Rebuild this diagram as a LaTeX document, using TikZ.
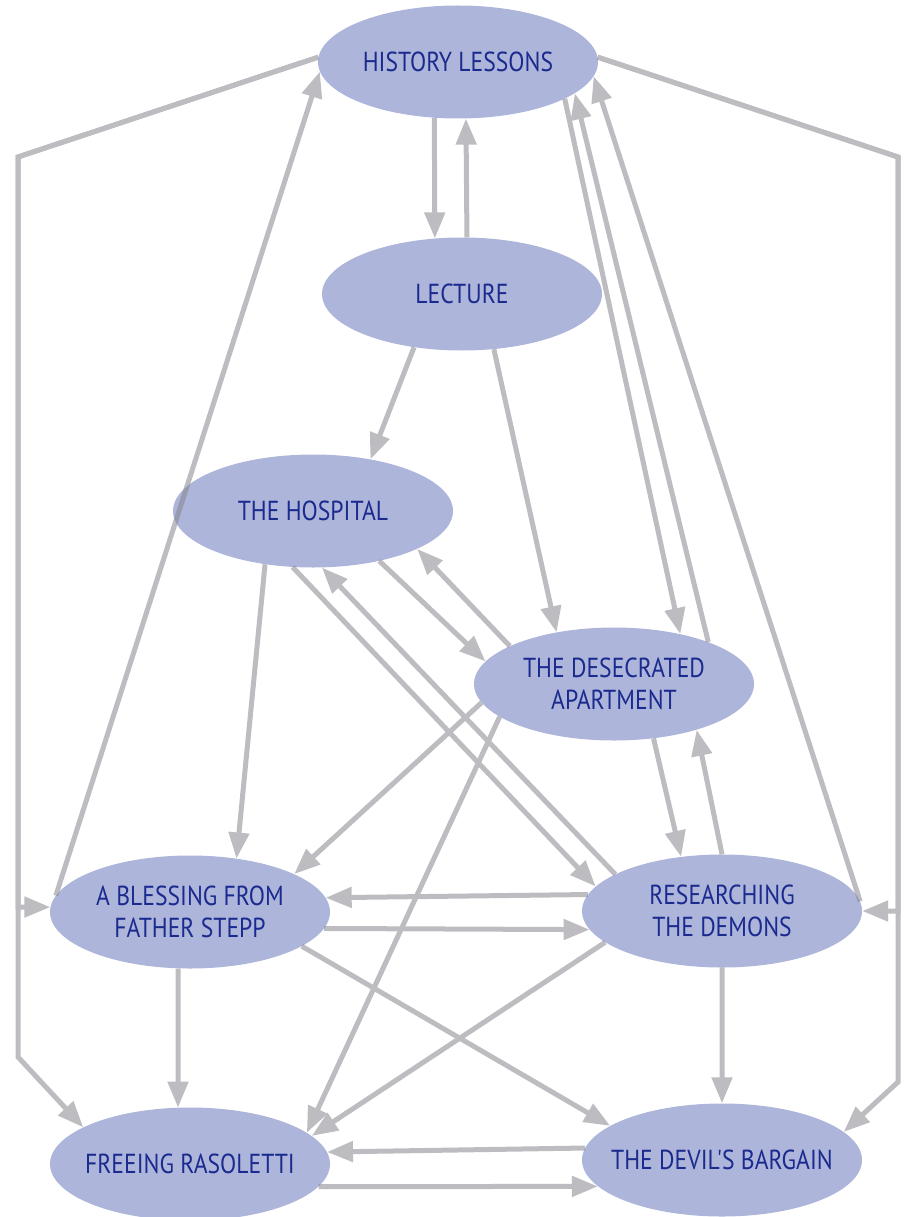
\documentclass[tikz,border=0pt]{standalone}
\usepackage{fontspec}
\newfontfamily\lbl[FakeStretch=0.86]{PT Sans}
\usetikzlibrary{arrows.meta,shapes.geometric}
\definecolor{nodefill}{HTML}{ADB5DA}
\definecolor{nodetext}{HTML}{1A2A8E}
\definecolor{edgecol}{HTML}{86868E}
\begin{document}
\begin{tikzpicture}[x=1pt,y=-1pt,
  state/.style={ellipse, fill=nodefill, minimum width=280pt, minimum height=113pt,
    inner xsep=-40pt, inner ysep=0pt, text=nodetext, font=\lbl\fontsize{27.5}{32}\selectfont, align=center},
  edge/.style={draw=edgecol, line width=5pt,
    -{Triangle[length=26pt,width=20pt]}}]
\useasboundingbox (0,0) rectangle (903,1217);
\node[state] (hist) at (458,62) {HISTORY LESSONS};
\node[state] (lect) at (462,294) {LECTURE};
\node[state] (hosp) at (313,511) {THE HOSPITAL};
\node[state] (dese) at (614,684) {THE DESECRATED\\APARTMENT};
\node[state] (bles) at (190,912) {A BLESSING FROM\\FATHER STEPP};
\node[state] (rese) at (722,911) {RESEARCHING\\THE DEMONS};
\node[state] (free) at (190,1164) {FREEING RASOLETTI};
\node[state] (devi) at (722,1160) {THE DEVIL'S BARGAIN};
\coordinate (lt) at (18,157);
\coordinate (lb1) at (18,907);
\coordinate (lb2) at (18,1057);
\coordinate (rt) at (898,157);
\coordinate (rb1) at (898,911);
\coordinate (rb2) at (898,1082);
\begin{scope}[transparency group, opacity=0.55]
% history lessons
\draw[edge] (hist.247.5) -- (lect.116.6);
\draw[edge] (lect.85.9) -- (hist.-82.1);
\draw[edge] (hist.-19.9) -- (dese.37.2);
\draw[edge] (dese.24.3) -- (hist.-15.8);
\draw[edge] (rese.4.4) -- (hist.-6.6);
\draw[edge] (hist.178) -- (lt) -- (lb1) -- (bles.178);
\draw[edge] (hist.178) -- (lt) -- (lb2) -- (free.161);
\draw[edge] (hist.2) -- (rt) -- (rb1) -- (rese.0);
\draw[edge] (hist.2) -- (rt) -- (rb2) -- (devi.13.4);
\draw[edge] (bles.173.8) -- (hist.184);
% lecture
\draw[edge] (lect.-132.3) -- (hosp.42.6);
\draw[edge] (lect.-60.3) -- (dese.138.6);
% hospital
\draw[edge] (hosp.-132.3) -- (bles.49.9);
\draw[edge] (hosp.-110.6) -- (rese.169.3);
\draw[edge] (rese.161.9) -- (hosp.-81);
\draw[edge] (hosp.-37.3) -- (dese.170.9);
\draw[edge] (dese.160) -- (hosp.-20.4);
% desecrated apartment
\draw[edge] (dese.188.2) -- (bles.20.5);
\draw[edge] (dese.196.3) -- (free.15.8);
\draw[edge] (dese.-54.1) -- (rese.127);
\draw[edge] (rese.90) -- (dese.-29.7);
% blessing / researching
\draw[edge] (rese.173.9) -- (bles.6.5);
\draw[edge] (bles.-7.6) -- (rese.188.1);
\draw[edge] (bles.-102) -- (free.102);
\draw[edge] (bles.-17.5) -- (devi.163.3);
\draw[edge] (rese.195.3) -- (free.13.4);
\draw[edge] (rese.-90) -- (devi.90);
% bottom
\draw[edge] (devi.175) -- (free.5.6);
\draw[edge] (free.-10) -- (devi.192.5);
\end{scope}
\end{tikzpicture}
\end{document}
